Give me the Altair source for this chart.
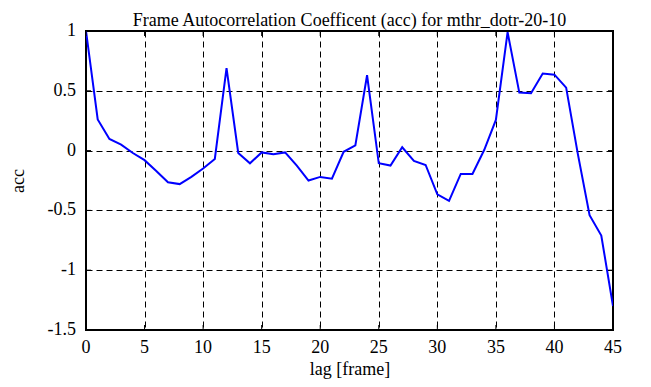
import altair as alt
import pandas as pd

lags = list(range(46))
acc = [1.0, 0.26, 0.097, 0.05, -0.02, -0.08, -0.17, -0.265, -0.28, -0.22,
       -0.15, -0.07, 0.69, -0.02, -0.106, -0.015, -0.03, -0.015, -0.125, -0.25,
       -0.22, -0.235, -0.01, 0.044, 0.63, -0.106, -0.125, 0.028, -0.087, -0.12,
       -0.365, -0.42, -0.195, -0.195, 0.005, 0.256, 0.99, 0.485, 0.48, 0.645,
       0.635, 0.526, -0.03, -0.54, -0.71, -1.30]
x_ticks = [0, 5, 10, 15, 20, 25, 30, 35, 40, 45]
y_ticks = [-1.5, -1, -0.5, 0, 0.5, 1]
x_labels = ["0", "5", "10", "15", "20", "25", "30", "35", "40", "45"]
y_labels = ["-1.5", "-1", "-0.5", "0", "0.5", "1"]

W, H = 527, 299
FONT = "Liberation Serif"

df = pd.DataFrame({"lag": lags, "acc": acc})
xt = pd.DataFrame({"t": x_ticks, "lab": x_labels})
yt = pd.DataFrame({"t": y_ticks, "lab": y_labels})

xscale = alt.Scale(domain=[0, 45], nice=False, zero=False)
yscale = alt.Scale(domain=[-1.5, 1], nice=False, zero=False)

common = dict(labels=False, titleFont=FONT, titleFontSize=18, titleFontWeight="normal",
              titleColor="black")
xaxis = alt.Axis(values=x_ticks, title="lag [frame]", titlePadding=30, **common)
yaxis = alt.Axis(values=y_ticks, title="acc", titlePadding=58, **common)

line = alt.Chart(df).mark_line(color="#0000ff", strokeWidth=2, clip=True).encode(
    x=alt.X("lag:Q", scale=xscale, axis=xaxis),
    y=alt.Y("acc:Q", scale=yscale, axis=yaxis),
)

tick_len = 5
xb = alt.Chart(xt).mark_rule(color="black", strokeWidth=1).encode(
    x=alt.X("t:Q", scale=xscale, axis=xaxis), y=alt.value(H), y2=alt.value(H - tick_len))
xtop = alt.Chart(xt).mark_rule(color="black", strokeWidth=1).encode(
    x=alt.X("t:Q", scale=xscale, axis=xaxis), y=alt.value(0), y2=alt.value(tick_len))
yl = alt.Chart(yt).mark_rule(color="black", strokeWidth=1).encode(
    y=alt.Y("t:Q", scale=yscale, axis=yaxis), x=alt.value(0), x2=alt.value(tick_len))
yr = alt.Chart(yt).mark_rule(color="black", strokeWidth=1).encode(
    y=alt.Y("t:Q", scale=yscale, axis=yaxis), x=alt.value(W), x2=alt.value(W - tick_len))

xlab = alt.Chart(xt).mark_text(font=FONT, fontSize=18, color="black", baseline="top",
                               align="center").encode(
    x=alt.X("t:Q", scale=xscale, axis=xaxis), y=alt.value(H + 9), text="lab:N")
ylab = alt.Chart(yt).mark_text(font=FONT, fontSize=18, color="black", baseline="middle",
                               align="right").encode(
    y=alt.Y("t:Q", scale=yscale, axis=yaxis), x=alt.value(-10), text="lab:N")

chart = alt.layer(line, xb, xtop, yl, yr, xlab, ylab).properties(
    width=W, height=H,
    background="white",
    title=alt.TitleParams("Frame Autocorrelation Coefficent (acc) for mthr_dotr-20-10",
                          font=FONT, fontSize=18, fontWeight="normal", color="black",
                          anchor="middle", offset=-8),
    autosize=alt.AutoSizeParams(type="none"),
    padding={"left": 78, "top": 23, "right": 22, "bottom": 55},
).configure_view(
    stroke="black", strokeWidth=2
).configure_axis(
    grid=True, gridColor="black", gridDash=[6, 4], gridWidth=1, gridOpacity=1,
    tickSize=0, domain=False,
)

chart.save("out.html", embed_options={"renderer": "svg", "actions": False})
